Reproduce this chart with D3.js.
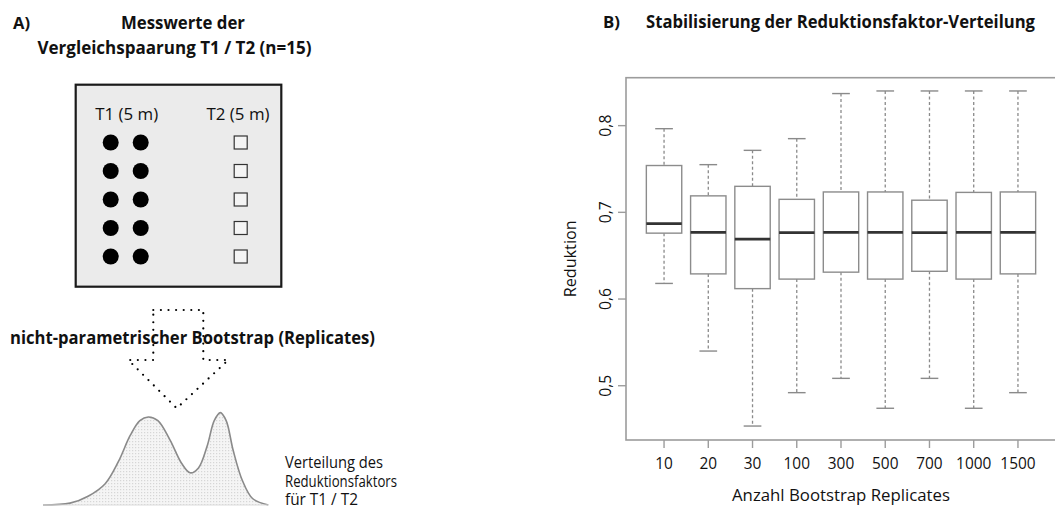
<!DOCTYPE html>
<html><head><meta charset="utf-8">
<script src="https://cdn.jsdelivr.net/npm/d3@7"></script>
<style>
html,body{margin:0;padding:0;background:#fff;}
svg{display:block;font-family:"Open Sans",sans-serif;}
</style></head>
<body>
<svg id="c" width="1055" height="509"></svg>
<script>
// ---------- Data (panel B) ----------
const categories = ["10","20","30","100","300","500","700","1000","1500"];
const whiskerLow  = [0.618, 0.540, 0.4535, 0.492, 0.5085, 0.474, 0.5085, 0.474, 0.492];
const q1          = [0.676, 0.629, 0.612, 0.623, 0.631, 0.623, 0.632, 0.623, 0.629];
const median      = [0.687, 0.677, 0.669, 0.6765, 0.677, 0.677, 0.6765, 0.677, 0.677];
const q3          = [0.754, 0.719, 0.730, 0.715, 0.7235, 0.7235, 0.714, 0.723, 0.7235];
const whiskerHigh = [0.7965, 0.755, 0.7715, 0.785, 0.837, 0.840, 0.840, 0.840, 0.840];
const yTicks = [0.5, 0.6, 0.7, 0.8];

// ---------- Data (panel A schematic) ----------
const rows = [1, 2, 3, 4, 5];
const t1Cols = [1, 2];
const densX = [0, 12, 20, 27.6, 33.5, 38.7, 43, 46.7, 51, 56.4, 61.5, 65.3, 69, 72.9, 76, 78.7, 81.3, 84.4, 88.4, 93, 100];
const densY = [0, 2, 9.5, 23, 47, 75, 91, 95, 91, 70, 45, 34.7, 40, 64, 91, 99.7, 91, 59, 27, 7, 0];

const svg = d3.select("#c");
svg.append("rect").attr("width",1055).attr("height",509).attr("fill","#fff");

// ---------- Panel B ----------
const x = d3.scaleLinear().domain([0.14, 9.86]).range([626, 1056]);
const y = d3.scaleLinear().domain([0.4374, 0.8553]).range([440, 77.7]);
const bw = 0.8 * (x(2) - x(1));
const gB = svg.append("g");
const frameCol = "#9c9c9c";

gB.append("rect").attr("x", x.range()[0]).attr("y", y.range()[1])
  .attr("width", x.range()[1]-x.range()[0]).attr("height", y.range()[0]-y.range()[1])
  .attr("fill","none").attr("stroke",frameCol).attr("stroke-width",1.6);

const data = categories.map((c,i)=>({c, i:i+1, lo:whiskerLow[i], q1:q1[i], med:median[i], q3:q3[i], hi:whiskerHigh[i]}));
const bx = gB.selectAll("g.box").data(data).join("g").attr("class","box");
bx.append("line").attr("x1",d=>x(d.i)).attr("x2",d=>x(d.i)).attr("y1",d=>y(d.hi)).attr("y2",d=>y(d.q3))
  .attr("stroke","#8a8a8a").attr("stroke-width",1.3).attr("stroke-dasharray","3,2.5");
bx.append("line").attr("x1",d=>x(d.i)).attr("x2",d=>x(d.i)).attr("y1",d=>y(d.q1)).attr("y2",d=>y(d.lo))
  .attr("stroke","#8a8a8a").attr("stroke-width",1.3).attr("stroke-dasharray","3,2.5");
bx.append("line").attr("x1",d=>x(d.i)-bw/4).attr("x2",d=>x(d.i)+bw/4).attr("y1",d=>y(d.hi)).attr("y2",d=>y(d.hi))
  .attr("stroke","#8a8a8a").attr("stroke-width",1.4);
bx.append("line").attr("x1",d=>x(d.i)-bw/4).attr("x2",d=>x(d.i)+bw/4).attr("y1",d=>y(d.lo)).attr("y2",d=>y(d.lo))
  .attr("stroke","#8a8a8a").attr("stroke-width",1.4);
bx.append("rect").attr("x",d=>x(d.i)-bw/2).attr("width",bw).attr("y",d=>y(d.q3)).attr("height",d=>y(d.q1)-y(d.q3))
  .attr("fill","#fff").attr("stroke","#8c8c8c").attr("stroke-width",1.4);
bx.append("line").attr("x1",d=>x(d.i)-bw/2).attr("x2",d=>x(d.i)+bw/2).attr("y1",d=>y(d.med)).attr("y2",d=>y(d.med))
  .attr("stroke","#333").attr("stroke-width",2.8);

// x ticks
const xt = gB.selectAll("g.xt").data(data).join("g").attr("class","xt");
xt.append("line").attr("x1",d=>x(d.i)).attr("x2",d=>x(d.i)).attr("y1",440).attr("y2",448)
  .attr("stroke",frameCol).attr("stroke-width",1.4);
xt.append("text").attr("x",d=>x(d.i)).attr("y",469).attr("text-anchor","middle")
  .attr("font-size",16.5).attr("fill","#111")
  .attr("textLength",d=>d.c.length*8.8).attr("lengthAdjust","spacingAndGlyphs").text(d=>d.c);

// y ticks
const yt = gB.selectAll("g.yt").data(yTicks).join("g").attr("class","yt");
yt.append("line").attr("x1",618).attr("x2",626).attr("y1",d=>y(d)).attr("y2",d=>y(d))
  .attr("stroke",frameCol).attr("stroke-width",1.4);
yt.append("text").attr("transform",d=>`translate(611,${y(d)}) rotate(-90)`).attr("text-anchor","middle")
  .attr("font-size",16.5).attr("fill","#111")
  .attr("textLength",22).attr("lengthAdjust","spacingAndGlyphs")
  .text(d=>d3.format(".1f")(d).replace(".",","));

gB.append("text").attr("transform",`translate(576,${(y.range()[0]+y.range()[1])/2}) rotate(-90)`)
  .attr("text-anchor","middle").attr("font-size",16).attr("fill","#111")
  .attr("textLength",77).attr("lengthAdjust","spacingAndGlyphs").text("Reduktion");
gB.append("text").attr("x",841).attr("y",501).attr("text-anchor","middle").attr("font-size",16).attr("fill","#111")
  .attr("textLength",218).attr("lengthAdjust","spacingAndGlyphs").text("Anzahl Bootstrap Replicates");

svg.append("text").attr("x",603).attr("y",28).attr("font-size",16.5).attr("font-weight","bold").attr("fill","#111")
  .attr("textLength",17).attr("lengthAdjust","spacingAndGlyphs").text("B)");
svg.append("text").attr("x",646).attr("y",28).attr("font-size",17).attr("font-weight","bold").attr("fill","#111")
  .attr("textLength",389).attr("lengthAdjust","spacingAndGlyphs").text("Stabilisierung der Reduktionsfaktor-Verteilung");

// ---------- Panel A ----------
svg.append("text").attr("x",13).attr("y",29).attr("font-size",16.5).attr("font-weight","bold").attr("fill","#111")
  .attr("textLength",17).attr("lengthAdjust","spacingAndGlyphs").text("A)");
svg.append("text").attr("x",183).attr("y",29).attr("text-anchor","middle").attr("font-size",17).attr("font-weight","bold").attr("fill","#111")
  .attr("textLength",124).attr("lengthAdjust","spacingAndGlyphs").text("Messwerte der");
svg.append("text").attr("x",174.5).attr("y",53.5).attr("text-anchor","middle").attr("font-size",17).attr("font-weight","bold").attr("fill","#111")
  .attr("textLength",274).attr("lengthAdjust","spacingAndGlyphs").text("Vergleichspaarung T1 / T2 (n=15)");

svg.append("rect").attr("x",75.7).attr("y",84.7).attr("width",205.6).attr("height",202)
  .attr("fill","#ebebeb").attr("stroke","#1a1a1a").attr("stroke-width",2.2);
svg.append("text").attr("x",126.7).attr("y",120).attr("text-anchor","middle").attr("font-size",16).attr("fill","#111")
  .attr("textLength",63).attr("lengthAdjust","spacingAndGlyphs").text("T1 (5 m)");
svg.append("text").attr("x",238).attr("y",120).attr("text-anchor","middle").attr("font-size",16).attr("fill","#111")
  .attr("textLength",63).attr("lengthAdjust","spacingAndGlyphs").text("T2 (5 m)");

const ry = d3.scaleLinear().domain([1,5]).range([142.5, 256.5]);
const cx = d3.scaleLinear().domain([1,2]).range([110.7, 140.7]);
const dots = [];
rows.forEach(r=>t1Cols.forEach(c=>dots.push({r,c})));
svg.selectAll("circle.t1").data(dots).join("circle").attr("class","t1")
  .attr("cx",d=>cx(d.c)).attr("cy",d=>ry(d.r)).attr("r",8).attr("fill","#000");
svg.selectAll("rect.t2").data(rows).join("rect").attr("class","t2")
  .attr("x",240.7-6.5).attr("y",d=>ry(d)-6.5).attr("width",13).attr("height",13)
  .attr("fill","#f4f4f4").attr("stroke","#333").attr("stroke-width",1.2);

// dotted arrow
const arrowPts = [[153.3,310],[203.3,310],[203.3,360],[228.3,360],[176.7,408.3],[128.3,360],[153.3,360],[153.3,310]];
svg.append("path").attr("d", d3.line()(arrowPts)).attr("fill","none").attr("stroke","#000")
  .attr("stroke-width",2.2).attr("stroke-linecap","round").attr("stroke-dasharray","0,7.6");

svg.append("text").attr("x",10).attr("y",344).attr("font-size",17.5).attr("font-weight","bold").attr("fill","#111")
  .attr("textLength",365).attr("lengthAdjust","spacingAndGlyphs").text("nicht-parametrischer Bootstrap (Replicates)");

// density
const defs = svg.append("defs");
const pat = defs.append("pattern").attr("id","stip").attr("width",3).attr("height",3).attr("patternUnits","userSpaceOnUse");
pat.append("rect").attr("width",3).attr("height",3).attr("fill","#f5f5f5");
pat.append("rect").attr("width",1.2).attr("height",1.2).attr("fill","#d6d6d6");
const dx = d3.scaleLinear().domain([0,100]).range([43,268.3]);
const dy = d3.scaleLinear().domain([0,100]).range([505,412.3]);
const dpts = densX.map((v,i)=>[dx(v), dy(densY[i])]);
svg.append("path").attr("d", d3.line().curve(d3.curveCatmullRom)(dpts)+"Z")
  .attr("fill","url(#stip)").attr("stroke","none");
svg.append("path").attr("d", d3.line().curve(d3.curveCatmullRom)(dpts))
  .attr("fill","none").attr("stroke","#8a8a8a").attr("stroke-width",1.6);
svg.append("line").attr("x1",dx(0)).attr("x2",dx(100)).attr("y1",dy(0)).attr("y2",dy(0))
  .attr("stroke","#dcdcdc").attr("stroke-width",1);

const lbl = [["Verteilung des",98,468],["Reduktionsfaktors",112,486.5],["für T1 / T2",73,505]];
svg.selectAll("text.lbl").data(lbl).join("text").attr("class","lbl")
  .attr("x",285).attr("y",d=>d[2]).attr("font-size",15.5).attr("fill","#111")
  .attr("textLength",d=>d[1]).attr("lengthAdjust","spacingAndGlyphs").text(d=>d[0]);
</script>
</body></html>
